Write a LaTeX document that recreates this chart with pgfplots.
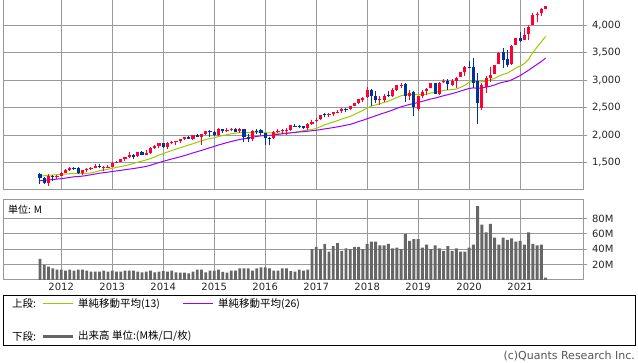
\documentclass[border=0pt]{standalone}
\usepackage{fontspec}
\setmainfont{DejaVu Sans}
\newfontfamily\jp{Noto Sans CJK JP}
\usepackage{pgfplots}
\usepackage{pgfplotstable}
\pgfplotsset{compat=1.18}
\definecolor{gridc}{HTML}{999999}
\definecolor{upc}{HTML}{FF0033}
\definecolor{dnc}{HTML}{003399}
\definecolor{maA}{HTML}{99CC00}
\definecolor{maB}{HTML}{9900FF}
\definecolor{volc}{HTML}{666666}
\definecolor{copyc}{HTML}{555555}

% monthly candles, i=0 is Aug 2011
\pgfplotstableread{
i O H L C
2 1131 1293 1075 1253
4 1247 1269 1202 1258
5 1259 1334 1259 1312
6 1312 1378 1312 1366
7 1366 1419 1340 1408
10 1310 1364 1267 1362
11 1362 1392 1325 1379
12 1379 1427 1355 1407
13 1407 1475 1397 1441
15 1412 1434 1343 1416
16 1416 1448 1398 1426
17 1426 1510 1426 1498
18 1498 1531 1485 1515
19 1515 1570 1502 1569
20 1569 1598 1536 1598
21 1598 1687 1581 1631
23 1610 1699 1605 1686
25 1636 1730 1633 1682
26 1682 1775 1647 1757
27 1759 1814 1746 1806
28 1807 1849 1768 1848
30 1783 1868 1738 1859
31 1858 1884 1834 1872
32 1874 1897 1814 1884
33 1884 1924 1860 1924
34 1924 1968 1916 1960
36 1930 2005 1905 2003
38 1971 2018 1821 2018
39 2018 2076 2001 2068
42 1997 2120 1981 2105
44 2068 2126 2048 2086
45 2087 2135 2068 2107
47 2067 2133 2044 2104
50 1920 2094 1894 2079
55 1937 2072 1932 2060
56 2057 2111 2034 2065
57 2067 2104 2026 2097
58 2094 2121 1992 2099
59 2099 2177 2074 2174
63 2129 2214 2084 2199
64 2200 2278 2187 2239
65 2252 2301 2245 2279
66 2286 2372 2272 2364
68 2362 2398 2329 2384
69 2389 2419 2353 2412
70 2416 2454 2406 2423
71 2431 2484 2408 2470
73 2474 2519 2447 2519
74 2521 2583 2520 2575
75 2583 2658 2558 2648
76 2645 2695 2606 2674
77 2684 2873 2682 2824
80 2634 2718 2554 2648
81 2643 2742 2595 2705
83 2705 2848 2699 2816
84 2821 2917 2796 2902
85 2904 2941 2864 2914
87 2718 2815 2631 2760
89 2477 2709 2444 2704
90 2702 2814 2682 2784
91 2798 2860 2722 2834
92 2849 2950 2849 2946
94 2752 2964 2729 2942
95 2971 3028 2952 2980
97 2909 3022 2892 2977
98 2984 3050 2856 3038
99 3051 3154 3051 3141
100 3144 3248 3070 3231
104 2498 2955 2448 2912
105 2869 3069 2767 3044
106 3039 3233 2966 3100
107 3106 3280 3101 3271
108 3288 3515 3285 3500
111 3296 3646 3280 3622
112 3646 3760 3633 3756
114 3731 3950 3726 3811
115 3843 3994 3723 3973
116 3993 4219 3993 4181
117 4192 4238 4057 4204
118 4217 4302 4164 4298
119 4301 4355 4287 4352
}\uptable

\pgfplotstableread{
i O H L C
0 1292 1307 1101 1219
1 1220 1229 1114 1131
3 1251 1278 1159 1247
8 1408 1422 1357 1398
9 1398 1415 1291 1310
14 1441 1470 1403 1412
22 1632 1654 1560 1606
24 1689 1710 1628 1633
29 1846 1851 1771 1783
35 1962 1991 1931 1931
37 2004 2019 1964 1972
40 2066 2094 1973 2059
41 2059 2072 1988 1995
43 2105 2118 2040 2068
46 2109 2130 2056 2063
48 2105 2113 1867 1972
49 1970 2021 1872 1920
51 2081 2117 2019 2080
52 2083 2104 1993 2044
53 2038 2038 1812 1940
54 1937 1963 1810 1932
60 2173 2194 2148 2171
61 2171 2188 2119 2168
62 2164 2170 2115 2126
67 2380 2401 2322 2363
72 2477 2491 2417 2472
78 2817 2836 2533 2714
79 2715 2802 2586 2641
82 2719 2792 2692 2718
86 2926 2940 2604 2712
88 2791 2800 2347 2507
93 2952 2954 2751 2752
96 2980 3014 2822 2926
101 3245 3338 3215 3226
102 3236 3394 2856 2954
103 2974 3137 2192 2585
109 3507 3588 3210 3363
110 3386 3550 3234 3270
113 3765 3871 3694 3714
}\dntable

\pgfplotstableread{
i a b
0 1253.2 1167.7
1 1259.5 1173.2
2 1268.2 1182.2
3 1273.1 1189.5
4 1279.0 1198.0
5 1283.2 1206.3
6 1289.3 1216.0
7 1295.5 1228.8
8 1301.1 1240.1
9 1296.9 1245.5
10 1298.2 1252.3
11 1302.7 1263.4
12 1311.5 1277.9
13 1328.6 1290.9
14 1350.2 1304.9
15 1362.8 1315.5
16 1376.5 1324.8
17 1395.0 1337.0
18 1410.6 1346.9
19 1426.2 1357.8
20 1440.8 1368.2
21 1458.8 1379.9
22 1481.5 1389.2
23 1506.5 1402.3
24 1526.0 1414.3
25 1547.2 1429.3
26 1571.5 1450.0
27 1601.8 1476.0
28 1635.0 1498.9
29 1662.5 1519.5
30 1690.2 1542.6
31 1717.7 1564.2
32 1741.9 1584.1
33 1767.0 1603.9
34 1792.3 1625.5
35 1817.3 1649.4
36 1841.7 1674.1
37 1867.8 1696.9
38 1893.6 1720.4
39 1917.5 1744.5
40 1937.0 1769.4
41 1948.3 1791.7
42 1973.1 1817.8
43 1989.2 1839.7
44 2005.6 1861.7
45 2022.8 1882.3
46 2033.5 1900.2
47 2044.5 1918.4
48 2047.7 1932.5
49 2041.3 1941.5
50 2049.5 1958.7
51 2054.3 1974.0
52 2052.5 1985.0
53 2043.3 1990.2
54 2038.5 1993.4
55 2035.0 2004.0
56 2034.8 2012.0
57 2035.6 2020.6
58 2035.0 2028.9
59 2043.5 2038.5
60 2048.7 2046.6
61 2063.8 2055.7
62 2079.6 2060.5
63 2088.8 2069.2
64 2101.1 2077.7
65 2119.2 2085.8
66 2151.8 2097.5
67 2184.9 2111.7
68 2209.8 2122.4
69 2236.5 2135.7
70 2261.6 2148.6
71 2290.2 2162.6
72 2313.1 2178.3
73 2339.8 2194.3
74 2371.2 2217.5
75 2411.3 2245.5
76 2447.8 2268.3
77 2492.8 2297.0
78 2526.3 2322.7
79 2547.6 2349.7
80 2569.5 2377.2
81 2594.2 2402.0
82 2617.8 2427.2
83 2648.0 2454.8
84 2681.2 2485.7
85 2715.2 2514.2
86 2730.1 2535.0
87 2744.3 2557.7
88 2733.5 2572.4
89 2735.8 2591.8
90 2732.7 2612.8
91 2741.9 2634.1
92 2765.4 2656.5
93 2773.4 2671.5
94 2791.6 2692.9
95 2811.8 2714.8
96 2820.2 2734.1
97 2826.0 2753.6
98 2835.5 2775.4
99 2868.5 2799.3
100 2904.8 2824.5
101 2960.1 2846.8
102 2979.3 2857.5
103 2964.0 2848.3
104 2970.0 2856.0
105 2977.5 2871.5
106 3004.3 2888.8
107 3029.6 2910.6
108 3069.6 2940.7
109 3103.2 2961.7
110 3125.8 2975.9
111 3170.7 3003.1
112 3218.0 3043.3
113 3255.2 3080.0
114 3300.2 3130.1
115 3378.5 3178.9
116 3501.3 3232.7
117 3600.7 3285.3
118 3697.2 3337.3
119 3793.5 3398.9
}\matable

\pgfplotstableread{
i v
0 27.3
1 19.5
2 17.3
3 15
4 13.6
5 13.6
6 12.3
7 13.6
8 12.3
9 13.6
10 13.6
11 12.3
12 10.9
13 10.9
14 10.9
15 12.3
16 10.9
17 12.3
18 10.9
19 10.9
20 12.3
21 12.3
22 12.3
23 10.9
24 10
25 10.9
26 12.3
27 10
28 10.9
29 11.4
30 10.9
31 12.3
32 10
33 9.5
34 9.5
35 8.6
36 10.9
37 13.6
38 13.6
39 10
40 12.3
41 12.3
42 13.6
43 10.5
44 9.5
45 12.3
46 12.3
47 15
48 15
49 15
50 12.3
51 15
52 16.4
53 16.4
54 15
55 12.3
56 12.3
57 15
58 15
59 11.4
60 10.9
61 13.6
62 12.3
63 13.6
64 40
65 43
66 40
67 47
68 37
69 44
70 48
71 38
72 41
73 40
74 43
75 43
76 40
77 47
78 50
79 50
80 45
81 45
82 47
83 41
84 42
85 40
86 60
87 51
88 53
89 53
90 42
91 46
92 40
93 45
94 41
95 38
96 44
97 38
98 41
99 37
100 37
101 42
102 46
103 96
104 72
105 62
106 73
107 55
108 46
109 55
110 52
111 54
112 50
113 51
114 46
115 62
116 47
117 45
118 46
119 3
}\voltable

\pgfplotsset{
  panel/.style={
    scale only axis, width=580pt, anchor=south west,
    xmin=-8.7, xmax=127.8,
    xtick={5,17,29,41,53,65,77,89,101,113},
    grid=major,
    major grid style={gridc, line width=1pt},
    axis line style={gridc, line width=1pt},
    ytick pos=right, yticklabel pos=right,
    ytick align=outside,
    major tick length=4pt,
    ytick style={gridc, line width=1pt},
    xtick style={draw=none},
    yticklabel style={font=\fontsize{10}{12}\selectfont, anchor=west, xshift=1.5pt, text=black!85},
  },
  candle/.style 2 args={only marks, mark=*, mark size=0pt,
    mark options={draw=none, fill=none},
    error bars/.cd, y dir=plus, y explicit, error mark=none,
    error bar style={#1, line width=#2}},
}

\begin{document}
\begin{tikzpicture}[x=1pt,y=1pt]
\useasboundingbox (0,0) rectangle (638,362);

% ---- upper panel: price ----
\begin{axis}[panel, at={(3pt,172pt)}, height=190pt,
  ymin=1000, ymax=4456,
  ytick={1500,2000,2500,3000,3500,4000},
  yticklabels={{1,500},{2,000},{2,500},{3,000},{3,500},{4,000}},
  xticklabels={}]
  % moving averages
  \addplot[maA, line width=1pt] table[x=i, y=a] {\matable};
  \addplot[maB, line width=1pt] table[x=i, y=b] {\matable};
  % wicks
  \addplot[candle={upc}{1pt}]
    table[x=i, y=L, y error plus expr={\thisrow{H}-\thisrow{L}}] {\uptable};
  \addplot[candle={dnc}{1pt}]
    table[x=i, y=L, y error plus expr={\thisrow{H}-\thisrow{L}}] {\dntable};
  % bodies
  \addplot[candle={upc}{3.2pt}]
    table[x=i, y=O, y error plus expr={\thisrow{C}-\thisrow{O}}] {\uptable};
  \addplot[candle={dnc}{3.2pt}]
    table[x=i, y=C, y error plus expr={\thisrow{O}-\thisrow{C}}] {\dntable};
\end{axis}

% ---- lower panel: volume ----
\begin{axis}[panel, at={(3pt,82pt)}, height=80pt,
  ymin=0, ymax=104,
  ytick={20,40,60,80},
  yticklabels={20M,40M,60M,80M},
  xticklabels={2012,2013,2014,2015,2016,2017,2018,2019,2020,2021},
  xticklabel style={font=\fontsize{10}{12}\selectfont, anchor=base, yshift=-11pt, text=black!85}]
  \addplot[ybar, bar width=2.8pt, fill=volc, draw=none] table[x=i, y=v] {\voltable};
  \node[anchor=west, font=\jp\fontsize{10}{12}\selectfont, inner sep=0pt]
    at ([xshift=5pt, yshift=-10pt]rel axis cs:0,1) {単位: M};
\end{axis}

% ---- legend box ----
\draw[black, line width=1pt] (3.5,66.5) rectangle (635.5,16.5);
\node[anchor=west, font=\jp\fontsize{10.5}{12}\selectfont, inner sep=0pt] at (12,58) {上段:};
\draw[maA, line width=1pt] (43,58.5) -- (73,58.5);
\node[anchor=west, font=\jp\fontsize{10.5}{12}\selectfont, inner sep=0pt] at (78,58) {単純移動平均(13)};
\draw[maB, line width=1pt] (183,58.5) -- (213,58.5);
\node[anchor=west, font=\jp\fontsize{10.5}{12}\selectfont, inner sep=0pt] at (218,58) {単純移動平均(26)};
\node[anchor=west, font=\jp\fontsize{10.5}{12}\selectfont, inner sep=0pt] at (12,25.5) {下段:};
\draw[volc, line width=3pt] (43,25.5) -- (73,25.5);
\node[anchor=west, font=\jp\fontsize{10.5}{12}\selectfont, inner sep=0pt] at (78,25.5) {出来高 単位:(M株/口/枚)};

% copyright
\node[anchor=base east, font=\fontsize{11}{13}\selectfont, text=copyc, inner sep=0pt] at (635,2.5) {(c)Quants Research Inc.};
\end{tikzpicture}
\end{document}
